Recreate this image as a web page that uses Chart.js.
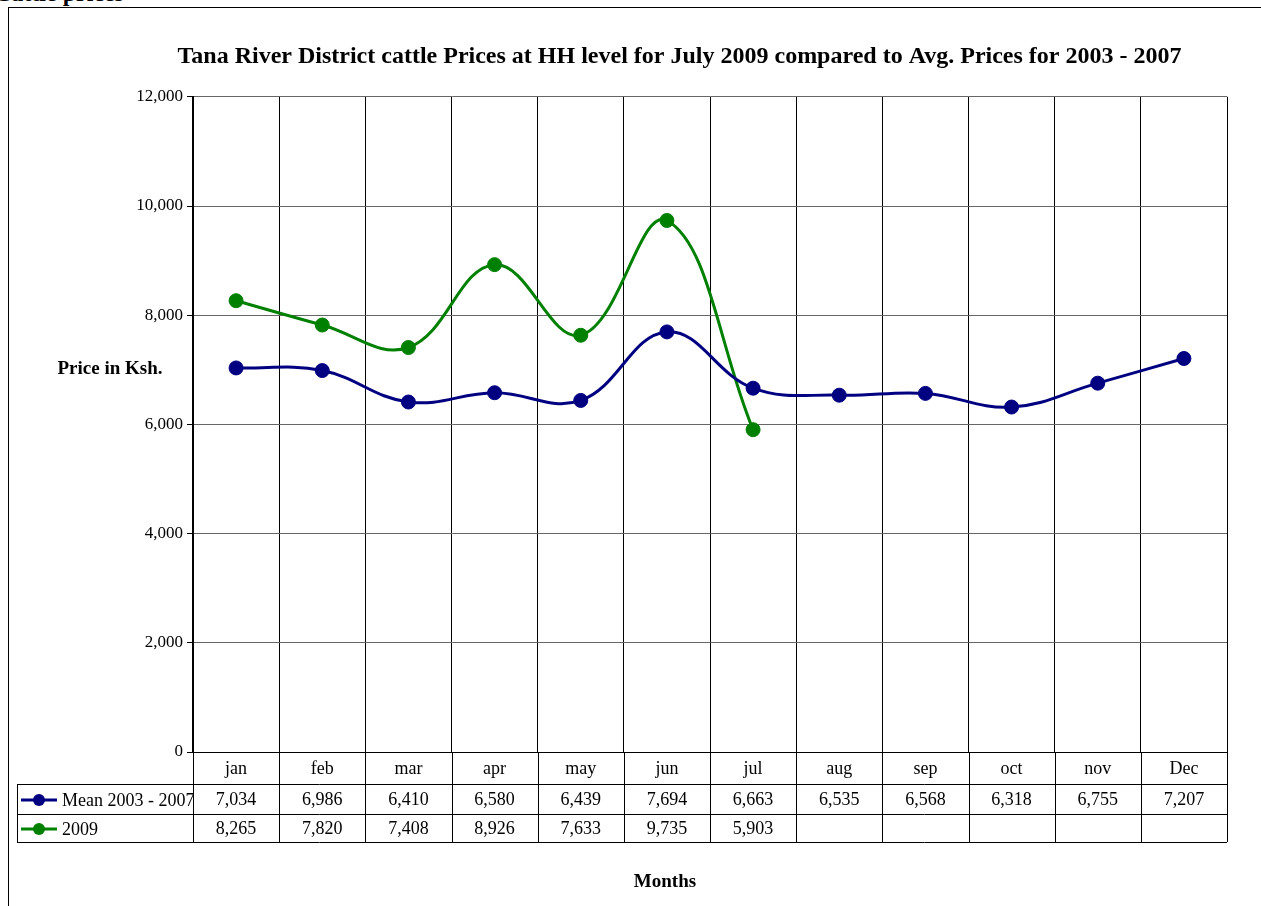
<!DOCTYPE html>
<html>
<head>
<meta charset="utf-8">
<title>Tana River cattle prices</title>
<script src="https://cdn.jsdelivr.net/npm/chart.js@4/dist/chart.umd.min.js"></script>
<style>
  html,body{margin:0;padding:0;background:#fff;overflow:hidden;}
  body{width:1261px;height:906px;position:relative;font-family:"Liberation Serif","Times New Roman",serif;}
  #secTitle{position:absolute;left:-6px;top:-20px;font-weight:bold;font-size:24px;white-space:nowrap;}
  #frame{position:absolute;left:8px;top:7px;width:1400px;height:1000px;border:1.5px solid #000;}
  #wrap{position:absolute;left:0;top:0;width:1261px;height:906px;}
</style>
</head>
<body>
<div id="secTitle">Cattle prices</div>
<div id="frame"></div>
<div id="wrap"><canvas id="chart" width="1261" height="906"></canvas></div>
<script>
// ----- Data -----
const MONTHS = ['jan','feb','mar','apr','may','jun','jul','aug','sep','oct','nov','Dec'];
const MEAN_0307 = [7034,6986,6410,6580,6439,7694,6663,6535,6568,6318,6755,7207];
const PRICES_2009 = [8265,7820,7408,8926,7633,9735,5903,null,null,null,null,null];
const SERIES_NAMES = ['Mean 2003 - 2007','2009'];
const Y_TICKS = [0,2000,4000,6000,8000,10000,12000];

const TITLE = 'Tana River District cattle Prices at HH level for July 2009 compared to Avg. Prices for 2003 - 2007';
const Y_TITLE = 'Price in Ksh.';
const X_TITLE = 'Months';

const NAVY = '#000080', GREEN = '#008000';
const SERIF = '"Liberation Serif","Times New Roman",serif';

// ----- Data table under the plot -----
const tablePlugin = {
  id:'dataTable',
  afterDraw(chart){
    const {ctx, chartArea:a, scales:{x}} = chart;
    const rows = [a.bottom, a.bottom+32, a.bottom+62, a.bottom+90];
    const left = 17;
    const step = (a.right-a.left)/MONTHS.length;
    ctx.save();
    ctx.strokeStyle = '#000'; ctx.lineWidth = 1;
    ctx.beginPath();
    // horizontal rules
    for(let r=1;r<rows.length;r++){
      ctx.moveTo(left, rows[r]+0.5); ctx.lineTo(a.right, rows[r]+0.5);
    }
    // column rules
    for(let i=0;i<=MONTHS.length;i++){
      const cx = Math.round(a.left+i*step)+0.5;
      ctx.moveTo(cx, rows[0]); ctx.lineTo(cx, rows[3]);
    }
    ctx.moveTo(left+0.5, rows[1]); ctx.lineTo(left+0.5, rows[3]);
    ctx.stroke();

    // values
    const series = [MEAN_0307, PRICES_2009];
    const colors = [NAVY, GREEN];
    ctx.font = '18px '+SERIF;
    ctx.textBaseline = 'middle';
    series.forEach((vals,s)=>{
      const cy = (rows[s+1]+rows[s+2])/2 + 1;
      ctx.fillStyle = '#000'; ctx.textAlign = 'center';
      vals.forEach((v,i)=>{
        if(v==null) return;
        ctx.fillText(v.toLocaleString('en-US'), x.getPixelForValue(i), cy);
      });
      // legend sample
      ctx.strokeStyle = colors[s]; ctx.lineWidth = 3;
      ctx.beginPath(); ctx.moveTo(21,cy); ctx.lineTo(57,cy); ctx.stroke();
      ctx.fillStyle = colors[s];
      ctx.beginPath(); ctx.arc(39,cy,6,0,Math.PI*2); ctx.fill();
      ctx.fillStyle = '#000'; ctx.textAlign = 'left';
      ctx.fillText(SERIES_NAMES[s], 62, cy+1);
    });

    // axis titles
    ctx.font = 'bold 19px '+SERIF;
    ctx.textAlign = 'center';
    ctx.fillText(Y_TITLE, 110, 369);
    ctx.fillText(X_TITLE, 665, 882);
    ctx.restore();
  }
};

// ----- Chart -----
const ctx = document.getElementById('chart').getContext('2d');
new Chart(ctx, {
  type:'line',
  data:{
    labels:MONTHS,
    datasets:[
      { label:SERIES_NAMES[0], data:MEAN_0307, borderColor:NAVY, backgroundColor:NAVY,
        borderWidth:3, pointRadius:7, pointBorderWidth:1, tension:0.4 },
      { label:SERIES_NAMES[1], data:PRICES_2009, borderColor:GREEN, backgroundColor:GREEN,
        borderWidth:3, pointRadius:7, pointBorderWidth:1, tension:0.4 }
    ]
  },
  options:{
    responsive:false,
    animation:false,
    layout:{padding:{left:132,right:34,top:0,bottom:0}},
    plugins:{
      legend:{display:false},
      tooltip:{enabled:false},
      title:{display:true, text:TITLE, color:'#000',
        font:{family:SERIF, size:24, weight:'bold'}, padding:{top:42,bottom:26}}
    },
    scales:{
      x:{
        offset:true,
        grid:{offset:true, color:'#000', drawTicks:false},
        border:{color:'#000', width:1},
        ticks:{color:'#000', font:{family:SERIF, size:18}, padding:6, autoSkip:false, maxRotation:0},
        afterFit(s){ s.height = 154; }
      },
      y:{
        min:0, max:12000,
        afterBuildTicks(s){ s.ticks = Y_TICKS.map(v=>({value:v})); },
        grid:{color:'#666', tickColor:'#000', tickLength:6},
        border:{color:'#000', width:2},
        ticks:{color:'#000', font:{family:SERIF, size:17}, padding:4,
          callback:v=>v.toLocaleString('en-US')},
        afterFit(s){ s.width = 61; }
      }
    }
  },
  plugins:[tablePlugin]
});
</script>
</body>
</html>
